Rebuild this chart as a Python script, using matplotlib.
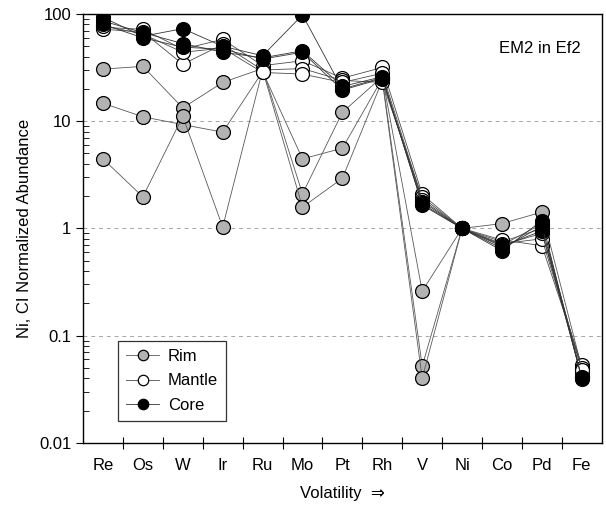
import numpy as np
import matplotlib
matplotlib.use('Agg')
from matplotlib import pyplot as plt
from matplotlib.ticker import LogLocator, NullFormatter, FixedLocator

plt.rcParams['font.family'] = ['Liberation Sans', 'DejaVu Sans']

elements = ['Re', 'Os', 'W', 'Ir', 'Ru', 'Mo', 'Pt', 'Rh', 'V', 'Ni', 'Co', 'Pd', 'Fe']

# CI and Ni normalized abundances
rim1 = [30.6, 32.5, 13.3, 23.0, 31.0, 2.1, 12.1, 26.0, 0.26, 1.0, 1.11, 1.42, 0.050]
rim2 = [14.7, 11.0, 9.3, 7.9, 29.0, 4.45, 5.6, 25.0, 0.052, 1.0, 0.75, 1.0, 0.046]
rim3 = [4.45, 1.97, 11.1, 1.03, 30.0, 1.58, 2.93, 24.0, 0.040, 1.0, 0.70, 1.1, 0.042]

mantle1 = [75, 72, 47, 58, 33, 36.6, 25.2, 31.7, 2.08, 1.0, 0.78, 0.69, 0.053]
mantle2 = [72, 68, 34, 52, 30, 31.0, 24.0, 23.0, 1.95, 1.0, 0.72, 0.80, 0.050]
mantle3 = [78, 65, 44, 48, 28.5, 27.5, 23.0, 28.0, 1.85, 1.0, 0.70, 0.90, 0.048]

core1 = [93, 62, 73, 50, 40.8, 98, 20.0, 25.5, 1.78, 1.0, 0.62, 1.18, 0.039]
core2 = [86, 67, 53, 44, 39.0, 45.4, 21.1, 26.0, 1.65, 1.0, 0.68, 0.95, 0.041]
core3 = [80, 60, 49, 47, 38.0, 44.0, 19.5, 25.0, 1.70, 1.0, 0.65, 1.05, 0.040]

rim = [rim1, rim2, rim3]
mantle = [mantle1, mantle2, mantle3]
core = [core1, core2, core3]

fig = plt.figure(figsize=(6.06, 5.09), dpi=100)
ax = fig.add_axes([0.137, 0.13, 0.856, 0.8425])

x = np.arange(len(elements))

def draw(group, face, lc, label):
    for i, s in enumerate(group):
        ax.plot(x, s, '-o', color=lc, lw=0.6, markersize=10,
                markerfacecolor=face, markeredgecolor='black', markeredgewidth=0.9,
                label=label if i == 0 else None, zorder=3)

draw(rim, '#b3b3b3', '0.35', 'Rim')
draw(mantle, 'white', '0.3', 'Mantle')
draw(core, 'black', '0.2', 'Core')

ax.set_yscale('log')
ax.set_ylim(0.01, 100)
ax.set_xlim(-0.5, len(elements) - 0.5)

ax.set_yticks([0.01, 0.1, 1, 10, 100])
ax.set_yticklabels(['0.01', '0.1', '1', '10', '100'], fontsize=12)
ax.yaxis.set_minor_locator(LogLocator(base=10, subs=np.arange(2, 10)))
ax.yaxis.set_minor_formatter(NullFormatter())
ax.tick_params(axis='y', which='major', direction='out', length=5, width=0.8)
ax.tick_params(axis='y', which='minor', direction='in', length=4, width=0.6)

ax.set_xticks(x)
ax.set_xticklabels(elements, fontsize=12)
ax.xaxis.set_minor_locator(FixedLocator(np.arange(0.5, len(elements) - 0.5, 1)))
ax.tick_params(axis='x', which='major', length=0, pad=11)
ax.tick_params(axis='x', which='minor', direction='inout', length=8, width=0.8)

for yv in [0.1, 1, 10]:
    ax.axhline(yv, color='0.65', lw=0.7, ls=(0, (4, 4)), zorder=1)

for sp in ax.spines.values():
    sp.set_linewidth(1.0)

ax.set_ylabel('Ni, CI Normalized Abundance', fontsize=12, labelpad=5)
ax.set_xlabel('Volatility  \u21d2', fontsize=12, labelpad=9)

ax.text(0.88, 0.92, 'EM2 in Ef2', transform=ax.transAxes, fontsize=12,
        ha='center', va='center')

leg = ax.legend(loc='lower left', bbox_to_anchor=(0.067, 0.051), borderaxespad=0,
                fontsize=12, frameon=True, fancybox=False, edgecolor='black',
                markerscale=0.75, handlelength=2.0, handletextpad=0.5,
                borderpad=0.5, labelspacing=0.55)
leg.get_frame().set_linewidth(0.9)

fig.savefig('out.png', dpi=100)
